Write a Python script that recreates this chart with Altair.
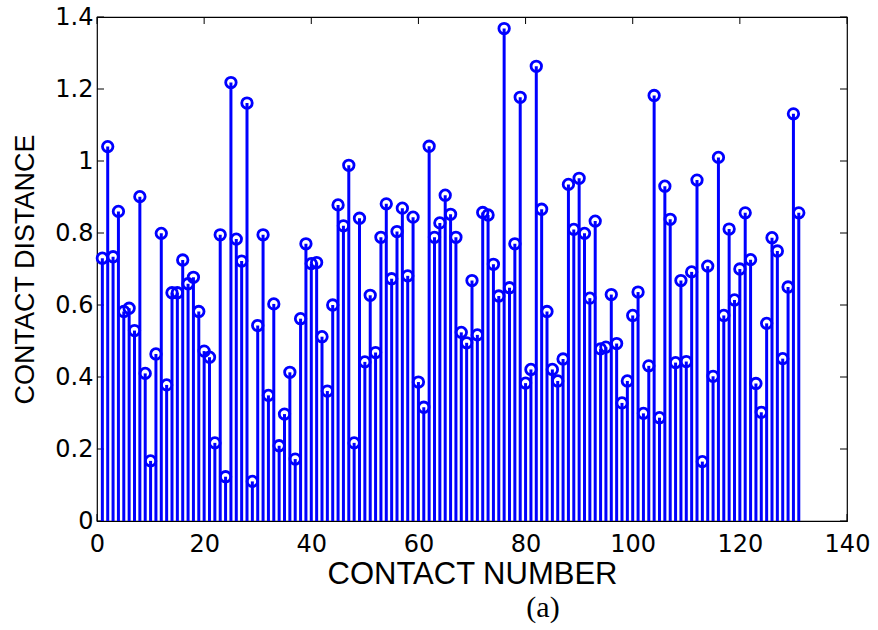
import altair as alt
import pandas as pd

contact_number = list(range(1, 132))
contact_distance = [
    0.730, 1.040, 0.734, 0.860, 0.582, 0.591, 0.529, 0.901, 0.410, 0.167,
    0.464, 0.799, 0.378, 0.634, 0.634, 0.725, 0.659, 0.677, 0.582, 0.472,
    0.455, 0.217, 0.795, 0.123, 1.218, 0.783, 0.722, 1.161, 0.110, 0.543,
    0.795, 0.349, 0.603, 0.209, 0.297, 0.413, 0.172, 0.562, 0.770, 0.715,
    0.718, 0.512, 0.361, 0.600, 0.878, 0.820, 0.988, 0.217, 0.841, 0.442,
    0.627, 0.468, 0.788, 0.881, 0.673, 0.804, 0.869, 0.681, 0.844, 0.386,
    0.316, 1.041, 0.788, 0.828, 0.905, 0.852, 0.788, 0.524, 0.495, 0.668,
    0.517, 0.857, 0.850, 0.713, 0.625, 1.368, 0.648, 0.770, 1.177, 0.383,
    0.421, 1.263, 0.866, 0.582, 0.421, 0.389, 0.450, 0.935, 0.810, 0.952,
    0.799, 0.619, 0.833, 0.478, 0.483, 0.629, 0.493, 0.328, 0.389, 0.571,
    0.636, 0.299, 0.431, 1.182, 0.287, 0.930, 0.838, 0.440, 0.668, 0.443,
    0.692, 0.947, 0.165, 0.708, 0.402, 1.010, 0.571, 0.811, 0.614, 0.700,
    0.856, 0.726, 0.382, 0.302, 0.549, 0.787, 0.750, 0.451, 0.650, 1.131,
    0.856,
]
x_ticks = [0, 20, 40, 60, 80, 100, 120, 140]
y_ticks = [0, 0.2, 0.4, 0.6, 0.8, 1.0, 1.2, 1.4]
x_title = "CONTACT NUMBER"
y_title = "CONTACT DISTANCE"
caption = "(a)"

W, H = 750, 504
BLUE = "#0000ff"

df = pd.DataFrame({"n": contact_number, "d": contact_distance})
xt = pd.DataFrame({"v": x_ticks})
yt = pd.DataFrame({"v": y_ticks})

xs = alt.Scale(domain=[0, 140], nice=False, zero=False)
ys = alt.Scale(domain=[0, 1.4], nice=False, zero=False)

x_axis = alt.Axis(
    values=x_ticks, format="~r", title=x_title, grid=False, ticks=False, domain=False,
    labelFont="DejaVu Sans", labelFontSize=24, labelColor="#000", labelFlush=False,
    labelOverlap=False, labelBaseline="alphabetic", labelPadding=30,
    titleFont="Liberation Sans", titleFontSize=31, titleFontWeight="normal",
    titleColor="#000", titleX=375, titleY=62, titleAlign="center",
    titleBaseline="alphabetic",
)
y_axis = alt.Axis(
    values=y_ticks, format="~r", title=y_title, grid=False, ticks=False, domain=False,
    labelFont="DejaVu Sans", labelFontSize=24, labelColor="#000", labelFlush=False,
    labelOverlap=False, labelPadding=4,
    titleFont="Liberation Sans", titleFontSize=27, titleFontWeight="normal",
    titleColor="#000", titleX=-64, titleY=252, titleAngle=270, titleAlign="center",
    titleBaseline="alphabetic",
)

tick_len = 7
left_ticks = alt.Chart(yt).mark_rule(color="black", strokeWidth=1).encode(
    y=alt.Y("v:Q", scale=ys, axis=y_axis), x=alt.value(0), x2=alt.value(tick_len))
right_ticks = alt.Chart(yt).mark_rule(color="black", strokeWidth=1).encode(
    y=alt.Y("v:Q", scale=ys, axis=y_axis), x=alt.value(W - tick_len), x2=alt.value(W))
top_ticks = alt.Chart(xt).mark_rule(color="black", strokeWidth=1).encode(
    x=alt.X("v:Q", scale=xs, axis=x_axis), y=alt.value(0), y2=alt.value(tick_len))
bottom_ticks = alt.Chart(xt).mark_rule(color="black", strokeWidth=1).encode(
    x=alt.X("v:Q", scale=xs, axis=x_axis), y=alt.value(H - tick_len), y2=alt.value(H))

stems = alt.Chart(df).mark_rule(color=BLUE, strokeWidth=3).encode(
    x=alt.X("n:Q", scale=xs, axis=x_axis),
    y=alt.Y("d:Q", scale=ys, axis=y_axis),
    y2=alt.datum(0),
)
markers = alt.Chart(df).mark_point(
    shape="circle", filled=False, color=BLUE, size=110, strokeWidth=2.8, opacity=1
).encode(
    x=alt.X("n:Q", scale=xs, axis=x_axis),
    y=alt.Y("d:Q", scale=ys, axis=y_axis),
)
cap = alt.Chart(pd.DataFrame({"t": [caption]})).mark_text(
    font="Liberation Serif", fontSize=30, color="black",
    baseline="alphabetic", align="center",
).encode(text="t:N", x=alt.value(446), y=alt.value(600))

chart = alt.layer(
    left_ticks, right_ticks, top_ticks, bottom_ticks, stems, markers, cap
).properties(
    width=W, height=H,
    autosize=alt.AutoSizeParams(type="none"),
    padding={"left": 97, "top": 17, "right": 31, "bottom": 109},
    background="white",
).configure_view(stroke="black", strokeWidth=1.2)

chart.save("out.html", embed_options={"renderer": "svg", "actions": False})
